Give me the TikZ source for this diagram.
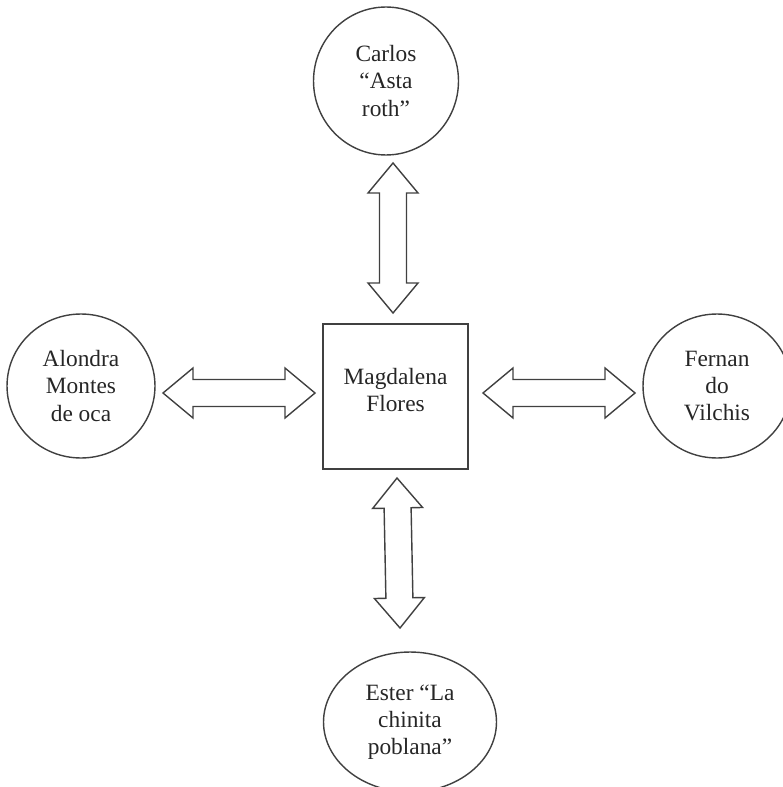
\documentclass[tikz,border=0pt]{standalone}
\usepackage{fontspec}
\setmainfont{Liberation Serif}
\usetikzlibrary{shapes.geometric,calc}

\tikzset{
  person/.style={ellipse, draw=black!75, line width=0.8pt, inner sep=0pt,
    align=center, text=black!85, font=\fontsize{13.3}{15.4}\selectfont},
  hub/.style={rectangle, draw=black!75, line width=0.8pt, inner sep=0pt,
    minimum width=2.9cm, minimum height=2.9cm,
    align=center, text=black!85, font=\fontsize{13.3}{15.4}\selectfont},
  blockarrow/.style={draw=black!75, line width=0.8pt, line join=miter}
}

% hollow double-headed block arrow from #1 to #2
\newcommand\twoway[2]{%
  \coordinate (ha) at ($(#1)!0.6cm!(#2)$);
  \coordinate (hb) at ($(#2)!0.6cm!(#1)$);
  \draw[blockarrow] (#1)
    -- ($(ha)!0.5cm!90:(#2)$) -- ($(ha)!0.27cm!90:(#2)$)
    -- ($(hb)!0.27cm!-90:(#1)$) -- ($(hb)!0.5cm!-90:(#1)$)
    -- (#2)
    -- ($(hb)!0.5cm!90:(#1)$) -- ($(hb)!0.27cm!90:(#1)$)
    -- ($(ha)!0.27cm!-90:(#2)$) -- ($(ha)!0.5cm!-90:(#2)$)
    -- cycle;}

\begin{document}
\begin{tikzpicture}[x=0.02cm, y=-0.02cm]
\useasboundingbox (0,0) rectangle (782,787);

\node[hub] (magdalena) at (395.5,396.5) {Magdalena\\Flores\\[-8pt]};
\node[person, minimum width=2.9cm, minimum height=2.96cm] (carlos) at (386,81)
    {Carlos\\“Asta\\roth”};
\node[person, minimum width=2.96cm, minimum height=2.88cm] (alondra) at (81,386)
    {Alondra\\Montes\\de oca};
\node[person, minimum width=2.96cm, minimum height=2.88cm] (fernando) at (717,386)
    {Fernan\\do\\Vilchis};
\node[person, minimum width=3.46cm, minimum height=2.8cm] (ester) at (410,722)
    {Ester “La\\chinita\\poblana”};

% arrow ends
\coordinate (c1) at (393,163);
\coordinate (c2) at (393,313);
\coordinate (a1) at (163,393);
\coordinate (a2) at (315,393);
\coordinate (f1) at (483,393);
\coordinate (f2) at (635,393);
\coordinate (e1) at (397,478);
\coordinate (e2) at (400,628);

\twoway{c1}{c2}
\twoway{a1}{a2}
\twoway{f1}{f2}
\twoway{e1}{e2}
\end{tikzpicture}
\end{document}
